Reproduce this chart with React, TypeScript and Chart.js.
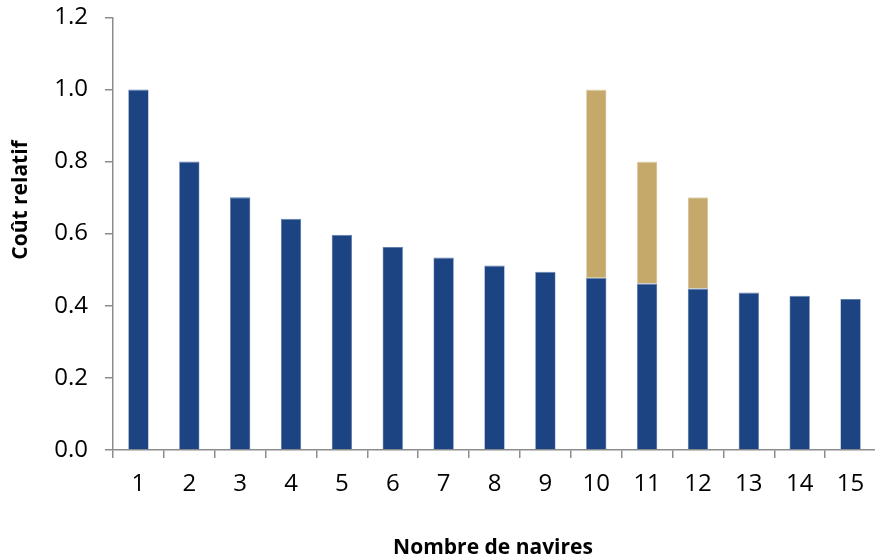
import React, { useEffect, useRef } from "react";
import { Chart, registerables } from "chart.js";

Chart.register(...registerables);

const categories = ["1", "2", "3", "4", "5", "6", "7", "8", "9", "10", "11", "12", "13", "14", "15"];
const baseCost = [1.0, 0.8, 0.701, 0.641, 0.597, 0.563, 0.534, 0.512, 0.494, 0.478, 0.462, 0.448, 0.437, 0.428, 0.419];
const extraCost = [0, 0, 0, 0, 0, 0, 0, 0, 0, 0.522, 0.338, 0.253, 0, 0, 0];
const yTicks = [0, 0.2, 0.4, 0.6, 0.8, 1.0, 1.2];
const xTitle = "Nombre de navires";
const yTitle = "Coût relatif";

const FONT = "'Open Sans', 'DejaVu Sans', sans-serif";

const titlePlugin = {
  id: "axisTitles",
  afterDraw(chart: any) {
    const ctx = chart.ctx;
    ctx.save();
    ctx.fillStyle = "#000";
    ctx.font = `bold 21px ${FONT}`;
    ctx.textAlign = "center";
    ctx.textBaseline = "middle";
    ctx.fillText(xTitle, 493, 548);
    ctx.translate(21, 200);
    ctx.rotate(-Math.PI / 2);
    ctx.fillText(yTitle, 0, 0);
    ctx.restore();
  },
};

export default function App() {
  const ref = useRef<HTMLCanvasElement | null>(null);
  useEffect(() => {
    if (!ref.current) return;
    const chart = new Chart(ref.current, {
      type: "bar",
      data: {
        labels: categories,
        datasets: [
          {
            data: baseCost,
            backgroundColor: "#1C4382",
            borderColor: "#5F7FAE",
            borderWidth: { top: 1, left: 0.6, right: 0.6, bottom: 0 } as any,
            barPercentage: 0.4,
            categoryPercentage: 1,
          },
          {
            data: extraCost,
            backgroundColor: "#C4A96B",
            borderColor: "#E3D6B5",
            borderWidth: { top: 1, left: 0.6, right: 0.6, bottom: 0 } as any,
            barPercentage: 0.4,
            categoryPercentage: 1,
          },
        ],
      },
      options: {
        animation: false,
        responsive: false,
        events: [],
        layout: { padding: { top: 17.3, right: 4, left: 0, bottom: 0 } },
        plugins: { legend: { display: false }, tooltip: { enabled: false } },
        scales: {
          x: {
            stacked: true,
            offset: true,
            grid: {
              display: true,
              drawOnChartArea: false,
              drawTicks: true,
              tickLength: 8,
              color: "#8c8c8c",
              lineWidth: 1.5,
              offset: true,
            },
            border: { color: "#8c8c8c", width: 1.5 },
            ticks: { color: "#000", font: { family: FONT, size: 24 }, padding: 12, maxRotation: 0, autoSkip: false },
            afterFit(scale: any) {
              scale.height = 110;
              scale.paddingLeft = 0;
              scale.paddingRight = 0;
            },
          },
          y: {
            stacked: true,
            min: 0,
            max: 1.2,
            afterBuildTicks(scale: any) {
              scale.ticks = yTicks.map((v) => ({ value: v }));
            },
            grid: {
              display: true,
              drawOnChartArea: false,
              drawTicks: true,
              tickLength: 8,
              color: "#8c8c8c",
              lineWidth: 1.5,
            },
            border: { color: "#8c8c8c", width: 1.5 },
            ticks: {
              color: "#000",
              font: { family: FONT, size: 24 },
              padding: 17,
              callback: (v: any) => Number(v).toFixed(1),
            },
            afterFit(scale: any) {
              scale.width = 113;
              scale.paddingTop = 0;
              scale.paddingBottom = 0;
            },
          },
        },
      },
      plugins: [titlePlugin],
    });
    return () => chart.destroy();
  }, []);
  return (
    <div style={{ position: "fixed", left: 0, top: 0, width: 875, height: 560, overflow: "hidden", background: "#fff" }}>
      <canvas ref={ref} width={880} height={560} style={{ display: "block" }} />
    </div>
  );
}
